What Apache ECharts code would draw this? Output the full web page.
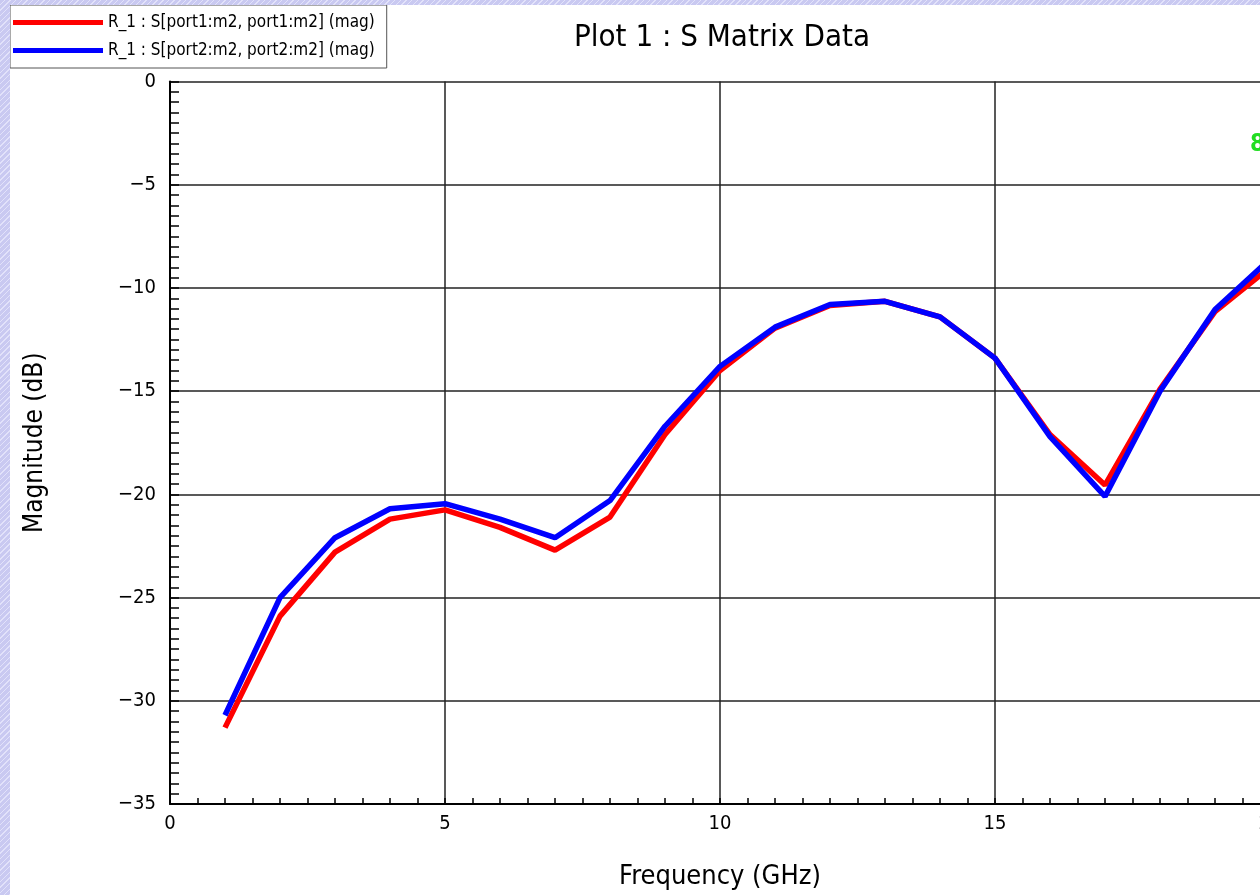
<!DOCTYPE html>
<html>
<head>
<meta charset="utf-8">
<script src="https://cdn.jsdelivr.net/npm/echarts@6/dist/echarts.min.js"></script>
<style>
html, body { margin:0; padding:0; width:1260px; height:895px; overflow:hidden; position:relative;
  background: repeating-linear-gradient(135deg, #c9c9f1 0px, #c9c9f1 3px, #e2e2fa 3px, #e2e2fa 4px); }
#chart { position:absolute; left:10px; top:5px; width:1290px; height:890px; background:#ffffff; }
</style>
</head>
<body>
<div id="chart"></div>
<script>
const freqs = [1,2,3,4,5,6,7,8,9,10,11,12,13,14,15,16,17,18,19,20];
const s11 = [-31.3,-25.9,-22.8,-21.2,-20.75,-21.6,-22.7,-21.1,-17.1,-14.0,-11.95,-10.85,-10.65,-11.4,-13.4,-17.1,-19.55,-14.9,-11.15,-9.0];
const s22 = [-30.7,-25.0,-22.1,-20.7,-20.45,-21.2,-22.1,-20.3,-16.7,-13.8,-11.9,-10.8,-10.65,-11.4,-13.4,-17.2,-20.1,-15.0,-11.05,-8.6];
const seriesNames = ['R_1 : S[port1:m2, port1:m2] (mag)', 'R_1 : S[port2:m2, port2:m2] (mag)'];
const titleText = 'Plot 1 : S Matrix Data';
const xName = 'Frequency (GHz)';
const yName = 'Magnitude (dB)';

const FONT = "'Liberation Sans Narrow', 'DejaVu Sans Condensed', sans-serif";
const chart = echarts.init(document.getElementById('chart'), null, { width: 1290, height: 890 });
const pts = (ys) => freqs.map((f, i) => [f, ys[i]]);
const minus = (v) => String(v).replace('-', '\u2212');

chart.setOption({
  animation: false,
  title: { text: titleText, left: 707, top: 12, textAlign: 'center',
    textStyle: { fontFamily: FONT, fontSize: 31, fontWeight: 'normal', color: '#000' } },
  legend: {
    orient: 'vertical', left: 0, top: 0, itemGap: 11,
    padding: [9, 12, 9, 3],
    backgroundColor: '#fff', borderColor: '#555', borderWidth: 1,
    itemWidth: 90, itemHeight: 5, icon: 'rect',
    textStyle: { fontFamily: FONT, fontSize: 17, color: '#000' },
    data: seriesNames
  },
  grid: { left: 160, top: 76.5, width: 1100, height: 728.5, containLabel: false },
  xAxis: {
    type: 'value', min: 0, max: 20, interval: 5,
    name: xName, nameLocation: 'middle', nameGap: 59,
    nameTextStyle: { fontFamily: FONT, fontSize: 27, color: '#000' },
    axisLine: { show: true, onZero: false, lineStyle: { color: '#000', width: 2 } },
    axisTick: { show: true, inside: true, length: 6, lineStyle: { color: '#000', width: 1.5 } },
    minorTick: { show: true, splitNumber: 10, length: 6, lineStyle: { color: '#000', width: 1.5 } },
    axisLabel: { fontFamily: FONT, fontSize: 20, color: '#000', margin: 10, formatter: minus },
    splitLine: { show: true, lineStyle: { color: '#222', width: 1.5 } }
  },
  yAxis: {
    type: 'value', min: -35, max: 0, interval: 5,
    name: yName, nameLocation: 'middle', nameGap: 122, nameRotate: 90,
    nameTextStyle: { fontFamily: FONT, fontSize: 26, color: '#000' },
    axisLine: { show: true, onZero: false, lineStyle: { color: '#000', width: 2 } },
    axisTick: { show: true, inside: true, length: 9, lineStyle: { color: '#000', width: 1.5 } },
    minorTick: { show: true, splitNumber: 10, length: 9, lineStyle: { color: '#000', width: 1.5 } },
    axisLabel: { fontFamily: FONT, fontSize: 20, color: '#000', margin: 14, formatter: minus },
    splitLine: { show: true, lineStyle: { color: '#222', width: 1.5 } }
  },
  series: [
    { name: seriesNames[0], type: 'line', data: pts(s11), symbol: 'none', z: 3,
      lineStyle: { color: '#ff0000', width: 5.5 }, itemStyle: { color: '#ff0000' } },
    { name: seriesNames[1], type: 'line', data: pts(s22), symbol: 'none', z: 4,
      lineStyle: { color: '#0000ff', width: 5.5 }, itemStyle: { color: '#0000ff' } }
  ],
  graphic: [
    { type: 'text', left: 1240, top: 128, style: { text: '8', fill: '#22dd22',
      font: 'bold 24px ' + FONT } }
  ]
});
</script>
</body>
</html>
